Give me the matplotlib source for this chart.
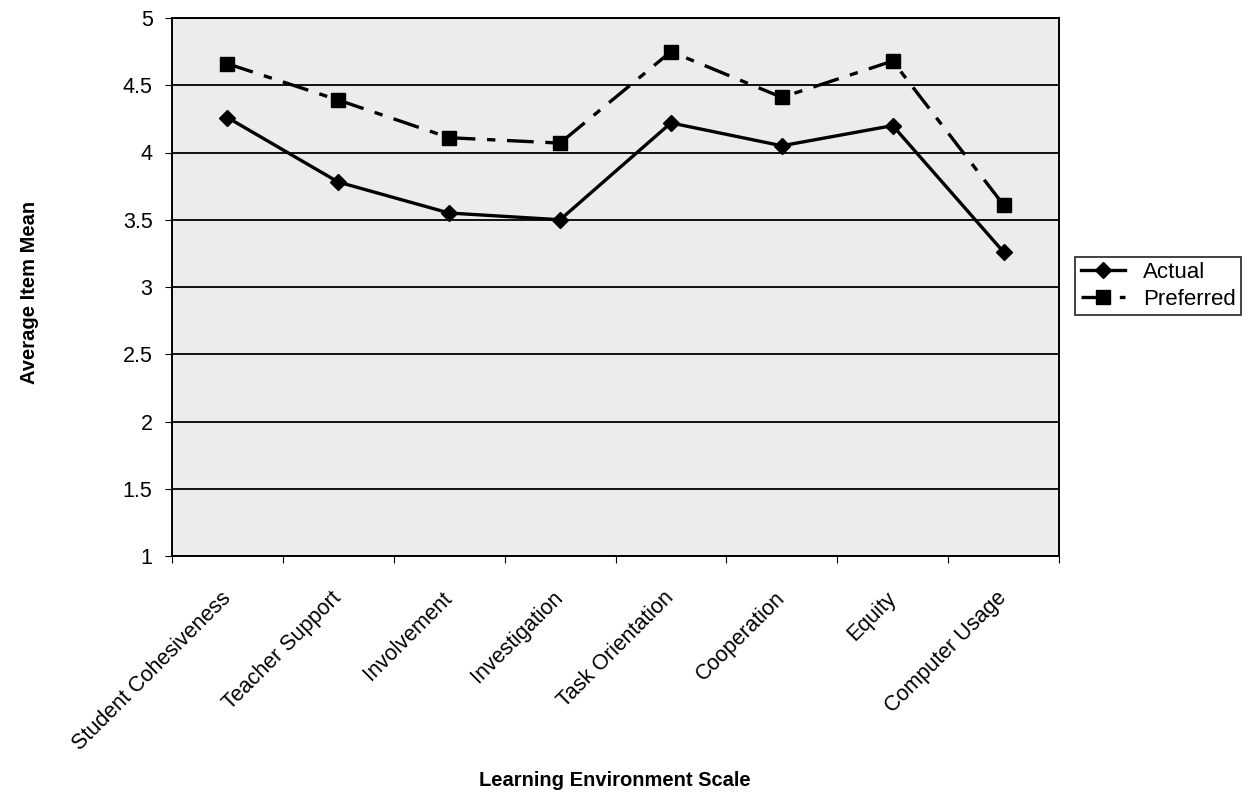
import numpy as np
import matplotlib.pyplot as plt
from matplotlib.ticker import FixedLocator, NullFormatter

plt.rcParams['font.family'] = ['Liberation Sans', 'DejaVu Sans']

scales = ["Student Cohesiveness", "Teacher Support", "Involvement", "Investigation",
          "Task Orientation", "Cooperation", "Equity", "Computer Usage"]
actual = [4.26, 3.78, 3.55, 3.50, 4.22, 4.05, 4.20, 3.26]
preferred = [4.66, 4.39, 4.11, 4.07, 4.75, 4.41, 4.68, 3.61]
y_ticks = [1, 1.5, 2, 2.5, 3, 3.5, 4, 4.5, 5]

W, H = 1254, 794
fig = plt.figure(figsize=(W / 100, H / 100), dpi=100)
ax = fig.add_axes([172 / W, 1 - 556 / H, (1059 - 172) / W, (556 - 18) / H])
ax.set_facecolor('#ececec')

x = np.arange(len(scales))
ax.plot(x, actual, color='black', lw=2.4, marker='D', ms=8, label='Actual')
ax.plot(x, preferred, color='black', lw=2.4, ls=(0, (8, 3.5, 2.5, 3.5)), marker='s', ms=10.5,
        label='Preferred')

ax.set_xlim(-0.5, len(scales) - 0.5)
ax.set_ylim(1, 5)
ax.set_yticks(y_ticks)
ax.set_yticklabels([f"{v:g}" for v in y_ticks], fontsize=15.5)
ax.yaxis.grid(True, color='black', lw=1.3)
ax.set_axisbelow(True)

# category names centred in each slot, tick marks on the slot edges
ax.xaxis.set_major_locator(FixedLocator(np.arange(len(scales) + 1) - 0.5))
ax.xaxis.set_major_formatter(NullFormatter())
ax.xaxis.set_minor_locator(FixedLocator(x))
ax.set_xticklabels(scales, minor=True, rotation=45, ha='right', va='center',
                   rotation_mode='anchor', fontsize=15.5)
ax.tick_params(axis='x', which='minor', length=0, pad=28)
ax.tick_params(axis='x', which='major', length=5, direction='out')
ax.tick_params(axis='y', length=5, direction='out', pad=9)
for s in ax.spines.values():
    s.set_color('black')
    s.set_linewidth(1.4)

fig.text(30 / W, 1 - 292 / H, "Average Item Mean", fontsize=14.5, fontweight='bold',
         rotation=90, ha='center', va='center')
fig.text(615 / W, 1 - 780 / H, "Learning Environment Scale", fontsize=14.5,
         fontweight='bold', ha='center', va='center')

leg = fig.legend(*ax.get_legend_handles_labels(), loc='center left',
                 bbox_to_anchor=(1075 / W, 1 - 286 / H), fontsize=16, frameon=True,
                 fancybox=False, edgecolor='black', handlelength=2.0, borderpad=0.25,
                 labelspacing=0.25, handletextpad=0.8, borderaxespad=0)
leg.get_frame().set_linewidth(1.3)

fig.savefig('out.png', dpi=100)
